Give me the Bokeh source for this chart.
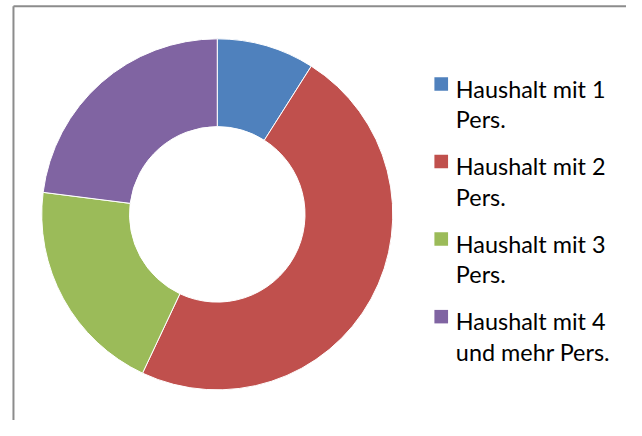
import math
from bokeh.plotting import figure
from bokeh.models import ColumnDataSource
from bokeh.core.properties import value
from bokeh.embed import file_html
from bokeh.resources import INLINE

# ---- data ----
categories = ["Haushalt mit 1 Pers.", "Haushalt mit 2 Pers.",
              "Haushalt mit 3 Pers.", "Haushalt mit 4 und mehr Pers."]
shares = [9, 48, 20, 23]
legend_lines = [["Haushalt mit 1", "Pers."],
                ["Haushalt mit 2", "Pers."],
                ["Haushalt mit 3", "Pers."],
                ["Haushalt mit 4", "und mehr Pers."]]
colors = ["#4F81BD", "#C0504D", "#9BBB59", "#8064A2"]

# reference canvas is 642x436; the figure fits the 8px page margins
RW, RH = 642, 436
W, H = 626, 420
K = W / RW


def sx(x):
    return x


def sy(y):
    return RH - y


p = figure(width=W, height=H, output_backend="svg", toolbar_location=None,
           x_range=(0, RW), y_range=(0, RH), min_border=0)
p.axis.visible = False
p.grid.visible = False
p.outline_line_color = None
p.background_fill_color = "white"
p.border_fill_color = "white"

# chart frame: only its top and left edges are inside the view
p.line([sx(13.3), sx(13.3)], [sy(6), 0], line_color="#8c8c8c", line_width=2)
p.line([sx(13.3), RW], [sy(6), sy(6)], line_color="#8c8c8c", line_width=2)

# donut
total = float(sum(shares))
starts, ends = [], []
acc = 0.0
for s in shares:
    a0 = acc / total * 2 * math.pi
    acc += s
    a1 = acc / total * 2 * math.pi
    starts.append(math.pi / 2 - a0)
    ends.append(math.pi / 2 - a1)

src = ColumnDataSource(dict(cat=categories, share=shares, start=starts,
                            end=ends, color=colors))
p.annular_wedge(x=sx(222.3), y=sy(222), inner_radius=90, outer_radius=180,
                start_angle="start", end_angle="end", direction="clock",
                fill_color="color", line_color="white", line_width=1,
                source=src)

# legend
base0 = 91.7
step = 80.5
line_h = 31.6
fs = "%.1fpx" % (24.0 * K)
for i, (lines, col) in enumerate(zip(legend_lines, colors)):
    b = base0 + i * step
    p.rect(x=sx(452), y=sy(b - 5), width=14, height=14,
           fill_color=col, line_color=None)
    for j, t in enumerate(lines):
        p.text(x=[sx(467)], y=[sy(b + j * line_h)], text=[t],
               text_font=value("Lato"), text_font_size=fs,
               text_baseline="alphabetic", text_align="left",
               text_color="#000000")

open("out.html", "w").write(file_html(p, INLINE))
